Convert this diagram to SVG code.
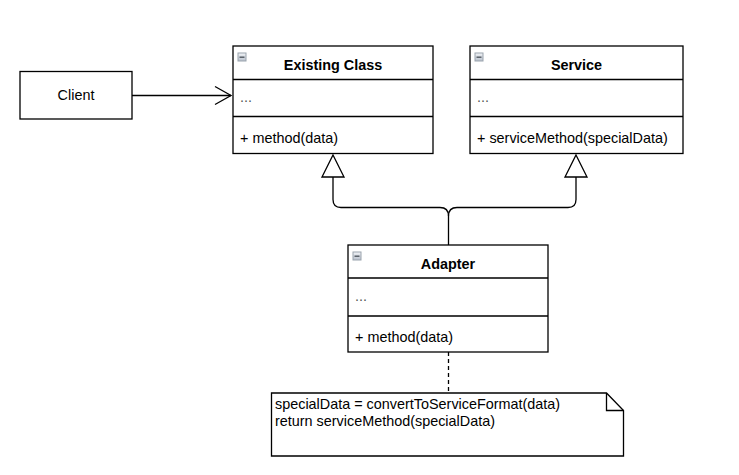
<svg xmlns="http://www.w3.org/2000/svg" width="739" height="475" viewBox="0 0 739 475">
<defs>
<linearGradient id="ig" x1="0" y1="0" x2="0" y2="1"><stop offset="0" stop-color="#f2f4f7"/><stop offset="1" stop-color="#b8c0cc"/></linearGradient>
<g id="icon"><rect x="0.5" y="0.5" width="8" height="8" fill="url(#ig)" stroke="#9aa3ad" stroke-width="1"/><rect x="2" y="4" width="5" height="1.4" fill="#505860"/></g>
</defs>
<style>
.box{fill:#fff;stroke:#000;stroke-width:1.3}
.ln{fill:none;stroke:#000;stroke-width:1.3}
.t{font-family:"Liberation Sans",Arial,sans-serif;font-size:14.4px;fill:#000}
.b{font-weight:bold;text-anchor:middle}
.g{fill:#555}
.c{text-anchor:middle}
</style>
<rect width="739" height="475" fill="#fff"/>
<g id="connectors">
<path class="ln" d="M132,95.5 H231"/>
<path class="ln" d="M215,86.5 L231,95.5 L215,104.5"/>
<path class="ln" d="M333,177 V199.5 Q333,207.5 341,207.5 H440 Q448.5,207.5 448.5,216 V245"/>
<path class="ln" d="M576,177 V199.5 Q576,207.5 568,207.5 H457 Q448.5,207.5 448.5,216"/>
<path class="box" d="M333,155 L344,177 L322,177 Z"/>
<path class="box" d="M576,155 L587,177 L565,177 Z"/>
<path class="ln" d="M448.5,352 V393" stroke-dasharray="4,3"/>
</g>
<g id="client">
<rect class="box" x="20" y="71.5" width="112" height="47.5"/>
<text class="t c" x="76" y="100">Client</text>
</g>
<g id="existing-class">
<rect class="box" x="233" y="46" width="200" height="107.5"/>
<path class="ln" d="M233,79.5 H433 M233,116.5 H433"/>
<use href="#icon" x="237.5" y="52.5"/>
<text class="t b" x="333" y="69.5">Existing Class</text>
<text class="t g" x="240" y="102">...</text>
<text class="t" x="240" y="143">+ method(data)</text>
</g>
<g id="service">
<rect class="box" x="470" y="46" width="213" height="107.5"/>
<path class="ln" d="M470,79.5 H683 M470,116.5 H683"/>
<use href="#icon" x="474.5" y="52.5"/>
<text class="t b" x="576.5" y="69.5">Service</text>
<text class="t g" x="477" y="102">...</text>
<text class="t" x="477" y="143">+ serviceMethod(specialData)</text>
</g>
<g id="adapter">
<rect class="box" x="348" y="245" width="200" height="107"/>
<path class="ln" d="M348,278 H548 M348,316 H548"/>
<use href="#icon" x="352.5" y="251.5"/>
<text class="t b" x="448" y="269">Adapter</text>
<text class="t g" x="355" y="301">...</text>
<text class="t" x="355" y="341.5">+ method(data)</text>
</g>
<g id="note">
<path class="box" d="M271.5,393 H606.5 L623.5,410.5 V456 H271.5 Z"/>
<path class="ln" d="M606.5,393 V410.5 H623.5"/>
<text class="t" x="275" y="409">specialData = convertToServiceFormat(data)</text>
<text class="t" x="275" y="426">return serviceMethod(specialData)</text>
</g>
</svg>
